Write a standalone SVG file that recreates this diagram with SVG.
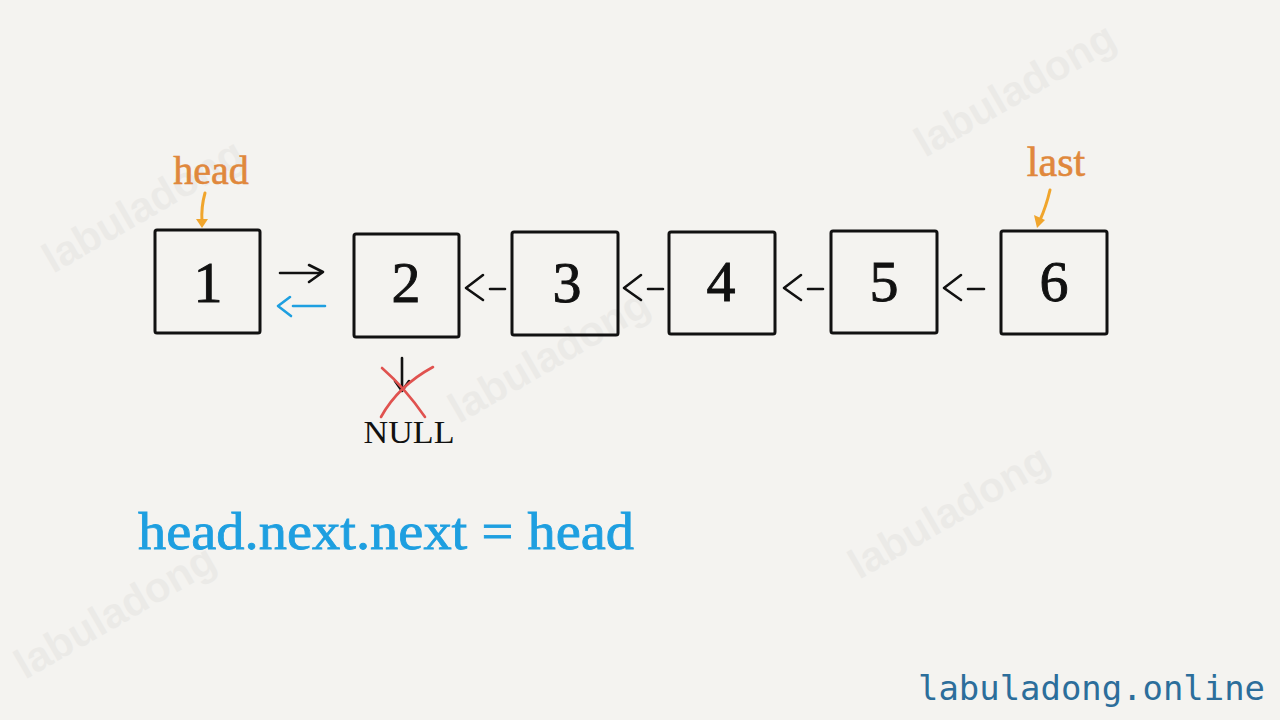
<svg xmlns="http://www.w3.org/2000/svg" width="1280" height="720" viewBox="0 0 1280 720">
  <defs>
    <style>
      .box { fill: none; stroke: #111; stroke-width: 3; }
      .num { font-family: "Liberation Serif", "DejaVu Serif", serif; font-size: 58px; fill: #111; stroke: #111; stroke-width: 0.9; text-anchor: middle; }
      .arr { fill: none; stroke: #111; stroke-width: 2.6; stroke-linecap: round; stroke-linejoin: round; }
      .blue { stroke: #1e9fe0; }
      .ptr { fill: none; stroke: #f0a52c; stroke-width: 3; stroke-linecap: round; }
      .lbl { font-family: "Liberation Serif", "DejaVu Serif", serif; fill: #e0883c; stroke: #e0883c; stroke-width: 0.6; }
      .wm { font-family: "Liberation Sans", "DejaVu Sans", sans-serif; font-weight: bold; font-size: 42px; fill: #000; opacity: 0.03; }
    </style>
  </defs>
  <rect width="1280" height="720" fill="#f4f3f0"/>

  <g id="watermarks">
    <text class="wm" transform="translate(150,218) rotate(-30)" text-anchor="middle">labuladong</text>
    <text class="wm" transform="translate(1022,102) rotate(-30)" text-anchor="middle">labuladong</text>
    <text class="wm" transform="translate(556,368) rotate(-30)" text-anchor="middle">labuladong</text>
    <text class="wm" transform="translate(956,524) rotate(-30)" text-anchor="middle">labuladong</text>
    <text class="wm" transform="translate(122,624) rotate(-30)" text-anchor="middle">labuladong</text>
  </g>

  <g id="node1">
    <rect class="box" x="155" y="230" width="105" height="103" rx="2"/>
    <text class="num" x="208" y="302">1</text>
  </g>
  <g id="node2">
    <rect class="box" x="354" y="234" width="105" height="103" rx="2"/>
    <text class="num" x="406" y="302">2</text>
  </g>
  <g id="node3">
    <rect class="box" x="512" y="232" width="106" height="103" rx="2"/>
    <text class="num" x="567" y="302">3</text>
  </g>
  <g id="node4">
    <rect class="box" x="669" y="232" width="106" height="102" rx="2"/>
    <text class="num" x="721" y="301">4</text>
  </g>
  <g id="node5">
    <rect class="box" x="831" y="231" width="106" height="102" rx="2"/>
    <text class="num" x="884" y="301">5</text>
  </g>
  <g id="node6">
    <rect class="box" x="1001" y="231" width="106" height="103" rx="2"/>
    <text class="num" x="1054" y="301">6</text>
  </g>

  <g id="head-label">
    <text class="lbl" x="211" y="184" font-size="40" text-anchor="middle">head</text>
    <path class="ptr" d="M205,193 Q201,207 202,222"/>
    <path d="M196,219 L208,219 L202,228 Z" fill="#f0a52c"/>
  </g>
  <g id="last-label">
    <text class="lbl" x="1056" y="176" font-size="42" text-anchor="middle">last</text>
    <path class="ptr" d="M1050,190 Q1046,207 1040,220"/>
    <path d="M1034,215 L1045,220 L1037,228 Z" fill="#f0a52c"/>
  </g>

  <g id="connectors">
    <path class="arr" d="M280,273 L320,273 M309,265 L323,272 L309,282"/>
    <path class="arr blue" d="M290,297 L278,306 L291,316 M293,306 L325,306"/>
    <path class="arr" d="M483,275 L466,288 L483,300 M490,289 L505,289"/>
    <path class="arr" d="M641,275 L624,288 L641,300 M648,289 L663,289"/>
    <path class="arr" d="M801,275 L784,288 L801,300 M808,289 L823,289"/>
    <path class="arr" d="M961,275 L944,288 L961,300 M968,289 L984,289"/>
    <path class="arr" d="M402,358 L402,387 M395,381 L402,391 L409,381"/>
    <path d="M381,417 Q398,386 433,367" fill="none" stroke="#e0524f" stroke-width="2.6" stroke-linecap="round"/>
    <path d="M382,368 Q405,388 425,417" fill="none" stroke="#e0524f" stroke-width="2.6" stroke-linecap="round"/>
  </g>

  <g id="null">
    <text x="409" y="443" font-family="Liberation Serif, DejaVu Serif, serif" font-size="31" fill="#111" text-anchor="middle" textLength="91" lengthAdjust="spacingAndGlyphs">NULL</text>
  </g>

  <g id="formula">
    <text x="138" y="549" font-family="Liberation Serif, DejaVu Serif, serif" font-size="52" fill="#1e9fe0" stroke="#1e9fe0" stroke-width="0.8" textLength="496" lengthAdjust="spacingAndGlyphs">head.next.next = head</text>
  </g>

  <g id="site">
    <text x="918" y="700" font-family="DejaVu Sans Mono, Liberation Mono, monospace" font-size="33" fill="#2c6e9b" textLength="347" lengthAdjust="spacingAndGlyphs">labuladong.online</text>
  </g>
</svg>
